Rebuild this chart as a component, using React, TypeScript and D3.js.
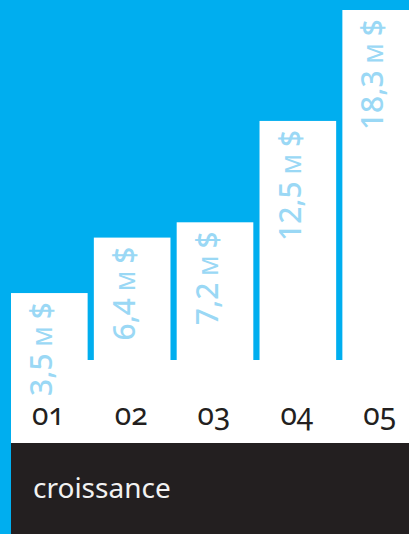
import React from "react";
import * as d3 from "d3";

const categories = ["01", "02", "03", "04", "05"];
const values = [3.5, 6.4, 7.2, 12.5, 18.3];
const valueLabels = ["3,5", "6,4", "7,2", "12,5", "18,3"];
const unitLabel = "M";
const currencyLabel = "$";
const title = "croissance";

const W = 409;
const H = 534;
const BLUE = "#00AEEF";
const LABEL = "#9AD8F5";
const DARK = "#231F20";

export default function App() {
  const left = 11;
  const baseY = 360;
  const bandBottom = 443;
  const x = d3.scaleBand<string>().domain(categories).range([left, 419]).paddingInner(0.075).paddingOuter(0);
  const y = d3.scaleLinear().domain([0, 18.3]).range([baseY, 10]);

  return (
    <svg width={W} height={H} style={{ position: "absolute", left: 0, top: 0 }} fontFamily="'Noto Sans', sans-serif">
      <rect x={0} y={0} width={W} height={H} fill={BLUE} />
      <rect x={left} y={baseY} width={W - left} height={bandBottom - baseY} fill="#fff" />
      <rect x={left} y={bandBottom} width={W - left} height={H - bandBottom} fill={DARK} />
      {categories.map((c, i) => {
        const bx = x(c)!;
        const by = y(values[i]);
        return (
          <g key={c}>
            <rect x={bx} y={by} width={x.bandwidth()} height={baseY - by + 1} fill="#fff" />
            <text
              transform={`translate(${bx + 41},${by + 9}) rotate(-90)`}
              textAnchor="end"
              fill={LABEL}
              fontSize={30}
              fontWeight={500}
            >
              {valueLabels[i]}
              <tspan dx={7} fontSize={22}>{unitLabel}</tspan>
              <tspan dx={7}>{currencyLabel}</tspan>
            </text>
            <text
              x={bx + x.bandwidth() / 2 - 1}
              y={425}
              textAnchor="middle"
              fill={DARK}
              fontSize={30}
              style={{ fontVariantNumeric: "oldstyle-nums" }}
            >
              {c}
            </text>
          </g>
        );
      })}
      <text x={33} y={498} fill="#F2F2F2" fontSize={28}>
        {title}
      </text>
    </svg>
  );
}
